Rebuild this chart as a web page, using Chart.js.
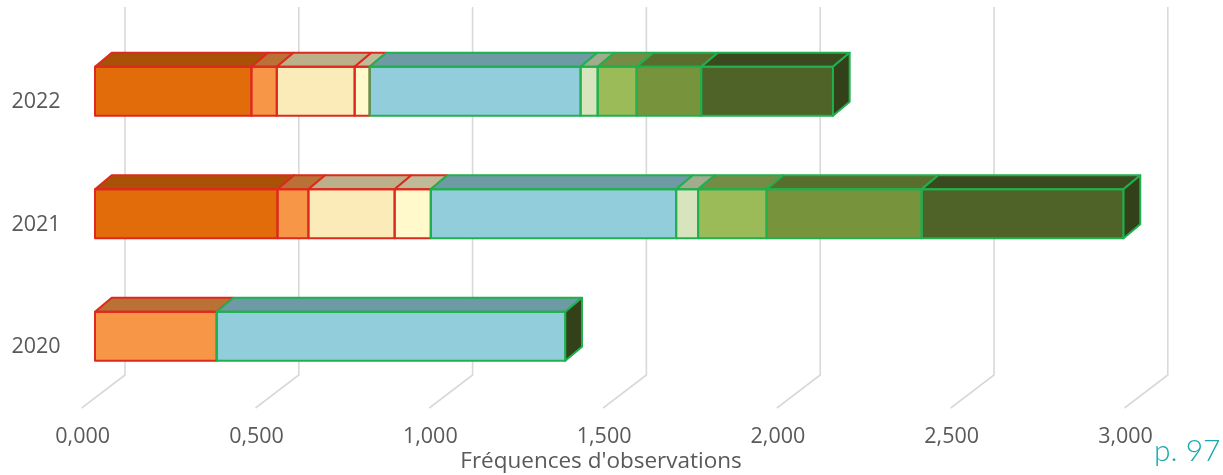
<!DOCTYPE html>
<html lang="fr">
<head>
<meta charset="utf-8">
<script src="https://cdn.jsdelivr.net/npm/chart.js@4.4.1/dist/chart.umd.min.js"></script>
<style>
  html, body { margin: 0; padding: 0; background: #ffffff; }
  #wrap { position: relative; width: 1223px; height: 475px; }
</style>
</head>
<body>
<div id="wrap"><canvas id="chart"></canvas></div>
<script>
// Years shown on the category axis (top to bottom)
const categories = ['2022', '2021', '2020'];

// Observation frequencies per group, one array per stacked segment
const seriesNames = ['Groupe 1', 'Groupe 2', 'Groupe 3', 'Groupe 4', 'Groupe 5',
                     'Groupe 6', 'Groupe 7', 'Groupe 8', 'Groupe 9'];
const group1 = [0.450, 0.525, null];
const group2 = [0.073, 0.089, 0.350];
const group3 = [0.224, 0.248, null];
const group4 = [0.043, 0.104, null];
const group5 = [0.607, 0.706, 1.003];
const group6 = [0.049, 0.063, null];
const group7 = [0.112, 0.197, null];
const group8 = [0.186, 0.446, null];
const group9 = [0.379, 0.581, null];

// Value axis ticks
const tickValues = [0, 0.5, 1, 1.5, 2, 2.5, 3];
const tickLabels = ['0,000', '0,500', '1,000', '1,500', '2,000', '2,500', '3,000'];
const axisTitle = "Fréquences d'observations";
const pageNote = 'p. 97';

const seriesValues = [group1, group2, group3, group4, group5, group6, group7, group8, group9];
const fills = ['#E36C0A', '#F79646', '#FAEBB9', '#FFF9CC', '#92CDDC',
               '#D7E4BD', '#9BBB59', '#77933C', '#4F6228'];
const RED = '#DD2A1E', GREEN = '#20B04E';
const edges = [RED, RED, RED, RED, GREEN, GREEN, GREEN, GREEN, GREEN];

const DEPTH_X = 16.7, DEPTH_Y = -14;   // bar depth (top face / end cap)
const WALL_X = 30, FLOOR_X = -13.3;    // back wall / front floor shift from bar front
const GRID = '#D9D9D9', TEXT = '#595959';

function shade(hex, k) {
  const n = parseInt(hex.slice(1), 16);
  const r = Math.round(((n >> 16) & 255) * k);
  const g = Math.round(((n >> 8) & 255) * k);
  const b = Math.round((n & 255) * k);
  return `rgb(${r},${g},${b})`;
}

// Back-wall gridlines, floor diagonals and axis text
const wallPlugin = {
  id: 'wall',
  beforeDatasetsDraw(chart) {
    const { ctx, scales } = chart;
    const topY = 7, wallBottom = 375, floorY = 408;
    ctx.save();
    ctx.strokeStyle = GRID;
    ctx.lineWidth = 1.6;
    tickValues.forEach(v => {
      const xf = scales.x.getPixelForValue(v);
      ctx.beginPath();
      ctx.moveTo(xf + WALL_X, topY);
      ctx.lineTo(xf + WALL_X, wallBottom);
      ctx.lineTo(xf + FLOOR_X, floorY);
      ctx.stroke();
    });
    ctx.restore();
  },
  afterDraw(chart) {
    const { ctx, scales } = chart;
    ctx.save();
    ctx.fillStyle = TEXT;
    ctx.textAlign = 'center';
    ctx.textBaseline = 'middle';
    ctx.font = '21.5px "Open Sans"';
    tickValues.forEach((v, i) => {
      const xf = scales.x.getPixelForValue(v);
      ctx.fillText(tickLabels[i], xf + FLOOR_X + 1, 437);
    });
    categories.forEach((c, i) => {
      const y = scales.y.getPixelForValue(i);
      ctx.fillText(c, 36, y + 11);
    });
    ctx.font = '22.5px "Open Sans"';
    ctx.fillText(axisTitle, 601, 462);
    ctx.fillStyle = '#17A9AE';
    ctx.textAlign = 'left';
    ctx.textBaseline = 'alphabetic';
    ctx.font = '300 30px Lato';
    ctx.fillText(pageNote, 1154, 461);
    ctx.restore();
  }
};

// Top faces, end caps and outlines for the stacked bars
const depthPlugin = {
  id: 'depth',
  afterDatasetsDraw(chart) {
    const { ctx } = chart;
    ctx.save();
    ctx.lineWidth = 2;
    ctx.lineJoin = 'round';
    const lastEnd = categories.map(() => null);
    chart.data.datasets.forEach((ds, di) => {
      const meta = chart.getDatasetMeta(di);
      meta.data.forEach((bar, i) => {
        if (ds.data[i] == null) return;
        const { x, y, base, height } = bar.getProps(['x', 'y', 'base', 'height'], true);
        const left = Math.min(x, base), right = Math.max(x, base);
        const top = y - height / 2, bottom = y + height / 2;
        // top face
        ctx.beginPath();
        ctx.moveTo(left, top);
        ctx.lineTo(left + DEPTH_X, top + DEPTH_Y);
        ctx.lineTo(right + DEPTH_X, top + DEPTH_Y);
        ctx.lineTo(right, top);
        ctx.closePath();
        ctx.fillStyle = shade(fills[di], 0.75);
        ctx.fill();
        ctx.strokeStyle = edges[di];
        ctx.stroke();
        // front outline
        ctx.strokeRect(left, top, right - left, bottom - top);
        if (lastEnd[i] == null || right >= lastEnd[i].right) {
          lastEnd[i] = { right, top, bottom };
        }
      });
    });
    // end caps
    lastEnd.forEach(e => {
      if (!e) return;
      ctx.beginPath();
      ctx.moveTo(e.right, e.top);
      ctx.lineTo(e.right + DEPTH_X, e.top + DEPTH_Y);
      ctx.lineTo(e.right + DEPTH_X, e.bottom + DEPTH_Y);
      ctx.lineTo(e.right, e.bottom);
      ctx.closePath();
      ctx.fillStyle = '#33411A';
      ctx.fill();
      ctx.strokeStyle = GREEN;
      ctx.stroke();
    });
    ctx.restore();
  }
};

new Chart(document.getElementById('chart'), {
  type: 'bar',
  data: {
    labels: categories,
    datasets: seriesValues.map((vals, i) => ({
      label: seriesNames[i],
      data: vals,
      backgroundColor: fills[i],
      borderWidth: 0,
      barPercentage: 0.4,
      categoryPercentage: 1
    }))
  },
  options: {
    indexAxis: 'y',
    responsive: true,
    maintainAspectRatio: false,
    animation: false,
    layout: { padding: { left: 95, right: 85.2, top: 30, bottom: 77.4 } },
    plugins: { legend: { display: false }, tooltip: { enabled: false } },
    scales: {
      x: { type: 'linear', stacked: true, min: 0, max: 3, display: false },
      y: { stacked: true, display: false }
    }
  },
  plugins: [wallPlugin, depthPlugin]
});
</script>
</body>
</html>
